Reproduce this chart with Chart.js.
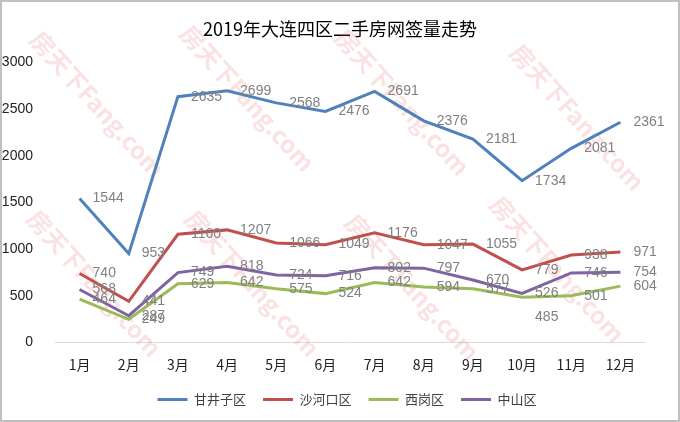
<!DOCTYPE html>
<html>
<head>
<meta charset="utf-8">
<script src="https://cdn.jsdelivr.net/npm/chart.js@4/dist/chart.umd.min.js"></script>
<style>
  html, body { margin: 0; padding: 0; background: #fff; }
</style>
</head>
<body>
<canvas id="chart" width="680" height="422"></canvas>
<script>
const months = ['1月', '2月', '3月', '4月', '5月', '6月', '7月', '8月', '9月', '10月', '11月', '12月'];
const ganjingzi = [1544, 953, 2635, 2699, 2568, 2476, 2691, 2376, 2181, 1734, 2081, 2361];
const shahekou = [740, 441, 1160, 1207, 1066, 1049, 1176, 1047, 1055, 779, 938, 971];
const xigang = [464, 249, 629, 642, 575, 524, 642, 594, 577, 485, 501, 604];
const zhongshan = [568, 287, 749, 818, 724, 716, 802, 797, 670, 526, 746, 754];
const seriesNames = ['甘井子区', '沙河口区', '西岗区', '中山区'];
const colors = ['#4F81BD', '#C0504D', '#9BBB59', '#8064A2'];
const yTicks = [0, 500, 1000, 1500, 2000, 2500, 3000];

const cjk = '"Noto Sans CJK SC", "Liberation Sans", sans-serif';
const num = '"Liberation Sans", "Noto Sans CJK SC", sans-serif';

// gray value labels to the right of each point
const pointLabels = {
  id: 'pointLabels',
  afterDatasetsDraw(chart) {
    const ctx = chart.ctx;
    ctx.save();
    ctx.font = '14px ' + num;
    ctx.fillStyle = '#808080';
    ctx.textBaseline = 'middle';
    ctx.textAlign = 'left';
    chart.data.datasets.forEach((ds, i) => {
      chart.getDatasetMeta(i).data.forEach((pt, j) => {
        let dy = 0;
        if (i === 2 && j === 9) dy = 20; // this one sits under the point
        ctx.fillText(String(ds.data[j]), pt.x + 13, pt.y + dy);
      });
    });
    ctx.restore();
  }
};

// pink site watermark behind the lines, plus the outer frame
const watermark = {
  id: 'watermark',
  afterLayout(chart) {
    // nudge the legend a bit to the right, like the original
    chart.legend.left += 7;
    chart.legend.right += 7;
  },
  beforeDatasetsDraw(chart) {
    const ctx = chart.ctx;
    const spots = [[35, 35], [185, 29], [340, 33], [515, 48], [32, 214], [190, 214], [350, 218], [495, 200]];
    ctx.save();
    ctx.font = 'bold 24px ' + cjk;
    ctx.fillStyle = 'rgba(235, 100, 100, 0.19)';
    ctx.textBaseline = 'middle';
    spots.forEach(([x, y]) => {
      ctx.save();
      ctx.translate(x, y);
      ctx.rotate(48 * Math.PI / 180);
      ctx.fillText('房天下Fang.com', 0, 0);
      ctx.restore();
    });
    ctx.restore();
  },
  afterDraw(chart) {
    const ctx = chart.ctx;
    ctx.save();
    ctx.strokeStyle = '#bfbfbf';
    ctx.lineWidth = 2;
    ctx.strokeRect(1, 1, 678, 420);
    ctx.restore();
  }
};

const allSeries = [ganjingzi, shahekou, xigang, zhongshan];

new Chart(document.getElementById('chart'), {
  type: 'line',
  data: {
    labels: months,
    datasets: allSeries.map((d, i) => ({
      label: seriesNames[i],
      data: d,
      borderColor: colors[i],
      backgroundColor: colors[i],
      borderWidth: 3,
      pointRadius: 0,
      tension: 0,
      order: 4 - i
    }))
  },
  options: {
    responsive: false,
    animation: false,
    devicePixelRatio: 1,
    layout: { padding: { top: 8, left: 0, right: 0, bottom: 6 } },
    plugins: {
      title: {
        display: true,
        text: '2019年大连四区二手房网签量走势',
        color: '#000',
        font: { size: 18, family: cjk, weight: 'normal' },
        padding: { top: 10, bottom: 23 }
      },
      legend: {
        position: 'bottom',
        labels: {
          boxWidth: 30,
          boxHeight: 3,
          padding: 17,
          color: '#404040',
          font: { size: 13, family: cjk },
          sort: (a, b) => a.datasetIndex - b.datasetIndex,
          generateLabels: (chart) =>
            Chart.defaults.plugins.legend.labels.generateLabels(chart).map(l => ({ ...l, lineWidth: 0 }))
        }
      },
      tooltip: { enabled: false }
    },
    scales: {
      x: {
        offset: true,
        grid: { display: true, color: 'transparent', drawTicks: false, offset: true },
        border: { display: true, color: '#d9d9d9', width: 1 },
        ticks: { color: '#222', padding: 14, font: { size: 14, family: cjk } },
        afterFit: (s) => { s.height = 33.5; }
      },
      y: {
        min: 0,
        max: 3000,
        afterBuildTicks: (s) => { s.ticks = yTicks.map(v => ({ value: v })); },
        grid: { display: false },
        border: { display: false },
        ticks: { color: '#222', padding: 14, font: { size: 14, family: num }, callback: (v) => String(v) },
        afterFit: (s) => { s.width = 55; }
      },
      y2: {
        position: 'right',
        grid: { display: false },
        border: { display: false },
        ticks: { display: false },
        afterFit: (s) => { s.width = 35; }
      }
    }
  },
  plugins: [pointLabels, watermark]
});
</script>
</body>
</html>
